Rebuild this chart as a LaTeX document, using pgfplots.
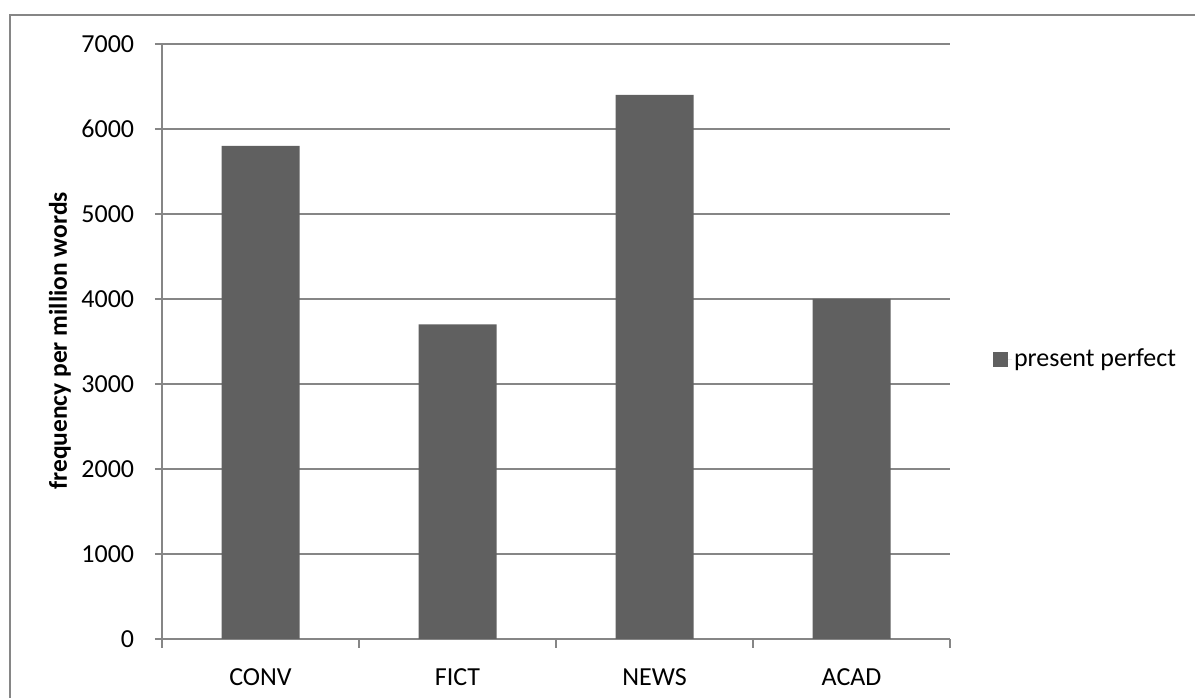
\documentclass[border=0pt]{standalone}
\usepackage{pgfplots}
\pgfplotsset{compat=1.18}
\usepackage{fontspec}
\setmainfont{Carlito}
\definecolor{bargray}{HTML}{606060}
\definecolor{linegray}{HTML}{868686}
\begin{document}
\fontsize{26bp}{31bp}\selectfont
\begin{tikzpicture}
\useasboundingbox (0,0) rectangle (1195bp,698bp);
% outer chart frame
\draw[linegray, line width=2bp] (10bp,-5bp) -- (10bp,683bp) -- (1200bp,683bp);
\begin{axis}[
  at={(162bp,59bp)}, anchor=south west,
  width=788bp, height=595bp, scale only axis,
  /pgf/number format/assume math mode=true,
  font=\fontsize{26bp}{31bp}\selectfont,
  xmin=-0.5, xmax=3.5, ymin=0, ymax=7000,
  ytick={0,1000,...,7000},
  xtick={0,1,2,3},
  xticklabels={CONV,FICT,NEWS,ACAD},
  minor xtick={-0.5,0.5,1.5,2.5,3.5},
  major x tick style={draw=none},
  minor x tick style={linegray, line width=1.5bp},
  minor tick length=9bp,
  major tick length=7bp,
  tick align=outside,
  y tick style={linegray, line width=1.5bp},
  ymajorgrids,
  grid style={linegray, line width=1.5bp},
  axis x line*=bottom, axis y line*=left,
  axis line style={linegray, line width=1.5bp, -},
  yticklabel style={/pgf/number format/1000 sep={}, xshift=-12bp},
  xticklabel style={yshift=-14bp},
  ylabel={\textbf{frequency per million words}},
  ylabel style={font=\fontsize{25.5bp}{30bp}\selectfont,
    at={(axis description cs:-0.1294,0.501)}, anchor=center, rotate=0},
  ybar, bar width=78bp,
  legend style={draw=none, fill=none, at={(1.0546,0.469)}, anchor=west,
    font=\fontsize{26bp}{31bp}\selectfont, inner sep=0pt, outer sep=0pt,
    /tikz/every even column/.append style={column sep=0pt}},
  legend cell align=left,
  legend image code/.code={\fill[bargray] (0bp,-7.5bp) rectangle (15bp,7.5bp);\path (0bp,0bp) -- (19bp,0bp);},
]
\addplot[fill=bargray, draw=none] coordinates {(0,5800) (1,3700) (2,6400) (3,4000)};
\addlegendentry{present perfect}
\end{axis}
\end{tikzpicture}
\end{document}
